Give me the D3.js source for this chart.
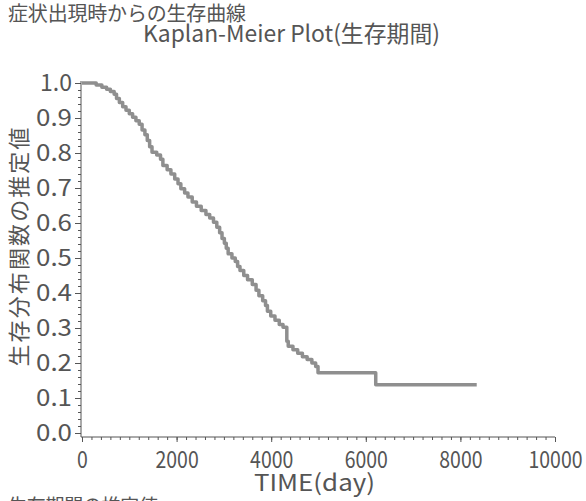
<!DOCTYPE html>
<html>
<head>
<meta charset="utf-8">
<script src="https://cdn.jsdelivr.net/npm/d3@7"></script>
<style>
  body { margin: 0; background: #fff; }
  text { font-family: "Noto Sans CJK JP", "Noto Sans", sans-serif; fill: #555; }
</style>
</head>
<body>
<div class="chart"></div>
<script>
// Kaplan-Meier estimate (time in days, survival after that time)
const times = [0, 300, 420, 520, 600, 680, 730, 790, 860, 930, 1000, 1070, 1140, 1210, 1270, 1330, 1380, 1430, 1480,
  1580, 1660, 1710, 1800, 1880, 1960, 2030, 2090, 2170, 2240, 2330, 2420, 2520, 2620, 2700, 2780, 2850, 2910,
  2960, 3010, 3050, 3090, 3170, 3240, 3290, 3340, 3420, 3500, 3600, 3680, 3740, 3820, 3880, 3920, 3990, 4080,
  4170, 4250, 4330, 4360, 4460, 4560, 4660, 4760, 4860, 4940, 4990, 6210, 8345];
const surv = [1.0, 0.994, 0.988, 0.982, 0.976, 0.968, 0.956, 0.944, 0.932, 0.922, 0.912, 0.902, 0.892, 0.882, 0.866,
  0.852, 0.836, 0.818, 0.802, 0.794, 0.782, 0.764, 0.752, 0.740, 0.726, 0.712, 0.698, 0.686, 0.674, 0.660, 0.648,
  0.636, 0.624, 0.614, 0.602, 0.588, 0.572, 0.556, 0.542, 0.528, 0.512, 0.500, 0.490, 0.476, 0.464, 0.450, 0.438,
  0.424, 0.408, 0.392, 0.378, 0.364, 0.348, 0.334, 0.322, 0.310, 0.302, 0.262, 0.248, 0.238, 0.228, 0.218, 0.210,
  0.200, 0.190, 0.172, 0.138, 0.138];

const xTicks = [0, 2000, 4000, 6000, 8000, 10000];
const yTicks = [0, 0.1, 0.2, 0.3, 0.4, 0.5, 0.6, 0.7, 0.8, 0.9, 1.0];

const w = 586;
const h = 501;

const svg = d3.select(".chart")
              .append("svg")
              .attr("width", w)
              .attr("height", h)
              .style("background-color", "white");

const x = d3.scaleLinear().domain([0, 10000]).range([82, 555]);
const y = d3.scaleLinear().domain([0, 1]).range([433, 83]);
const axisY = y(0) + 4;   // x axis sits a bit under zero
const axisColor = "#555";

// minor ticks
svg.append("g")
  .attr("transform", "translate(0," + axisY + ")")
  .call(d3.axisBottom(x).tickValues(d3.range(0, 10001, 200)).tickSize(3).tickFormat(""));
const xMajor = svg.append("g")
  .attr("transform", "translate(0," + axisY + ")")
  .call(d3.axisBottom(x).tickValues(xTicks).tickSize(5).tickPadding(10).tickFormat(d3.format("d")));

svg.append("g")
  .attr("transform", "translate(" + (x(0) - 1) + ",0)")
  .call(d3.axisLeft(y).tickValues(d3.range(0, 1.001, 0.02)).tickSize(3).tickFormat(""));
const yMajor = svg.append("g")
  .attr("transform", "translate(" + (x(0) - 1) + ",0)")
  .call(d3.axisLeft(y).tickValues(yTicks).tickSize(6).tickPadding(3).tickFormat(d3.format(".1f")));

svg.selectAll(".domain").remove();
svg.selectAll(".tick line").attr("stroke", axisColor);

// axis lines
svg.append("line")
  .attr("x1", x(0) - 1).attr("x2", x(10000))
  .attr("y1", axisY).attr("y2", axisY)
  .attr("stroke", axisColor);
svg.append("line")
  .attr("x1", x(0) - 1).attr("x2", x(0) - 1)
  .attr("y1", 81).attr("y2", axisY)
  .attr("stroke", axisColor);

xMajor.selectAll("text")
  .attr("font-size", 23)
  .attr("fill", "#555")
  .attr("textLength", d => String(d).length * 10.8)
  .attr("lengthAdjust", "spacingAndGlyphs");

yMajor.selectAll("text")
  .attr("font-size", 23)
  .attr("fill", "#555")
  .attr("textLength", d => d === 1 ? 32 : 36)
  .attr("lengthAdjust", "spacingAndGlyphs");

// the curve
const pts = times.map((t, i) => [t, surv[i]]);
const line = d3.line()
  .x(d => x(d[0]))
  .y(d => y(d[1]))
  .curve(d3.curveStepAfter);

svg.append("path")
  .datum(pts)
  .attr("d", line)
  .attr("fill", "none")
  .attr("stroke", "#8f8f8f")
  .attr("stroke-width", 3.5)
  .attr("stroke-linejoin", "round");

// titles and labels
svg.append("text")
  .attr("x", 8).attr("y", 21)
  .attr("font-size", 20)
  .attr("textLength", 238)
  .text("症状出現時からの生存曲線");

svg.append("text")
  .attr("x", 143).attr("y", 42)
  .attr("font-size", 23)
  .attr("textLength", 297)
  .attr("lengthAdjust", "spacingAndGlyphs")
  .text("Kaplan-Meier Plot(生存期間)");

svg.append("text")
  .attr("transform", "translate(27,247) rotate(-90)")
  .attr("text-anchor", "middle")
  .attr("font-size", 22)
  .attr("textLength", 239)
  .text("生存分布関数の推定値");

svg.append("text")
  .attr("x", 254).attr("y", 491)
  .attr("font-size", 23)
  .attr("textLength", 121)
  .attr("lengthAdjust", "spacingAndGlyphs")
  .text("TIME(day)");

svg.append("text")
  .attr("x", 8).attr("y", 513)
  .attr("font-size", 19)
  .attr("textLength", 150)
  .text("生存期間の推定値");
</script>
</body>
</html>
